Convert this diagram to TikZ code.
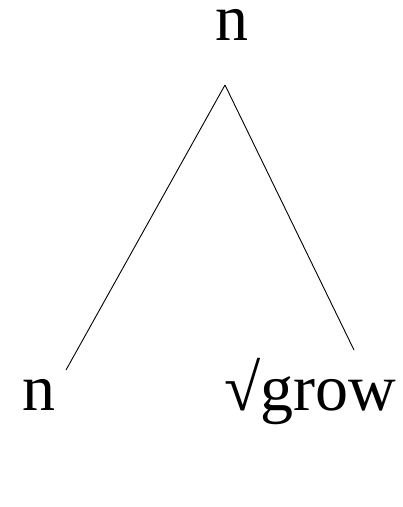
\documentclass[tikz,border=0pt]{standalone}
\usepackage{fontspec}
\setmainfont{Liberation Serif}
\tikzset{
  cat/.style={anchor=base, inner sep=0pt, font=\fontsize{66}{70}\selectfont},
  branch/.style={line width=0.9pt},
}

\begin{document}
\begin{tikzpicture}[x=1pt, y=-1pt]
  \useasboundingbox (0,0) rectangle (403,507);
  \node[cat] (root)  at (232,40)  {n};
  \node[cat] (left)  at (39,410)  {n};
  \node[cat] (right) at (310,410) {√grow};
  \coordinate (apex) at (225,85);
  \coordinate (lend) at (66,370);  \coordinate (rend) at (354,350);
  \draw[branch] (apex) -- (lend);
  \draw[branch] (apex) -- (rend);
\end{tikzpicture}
\end{document}
